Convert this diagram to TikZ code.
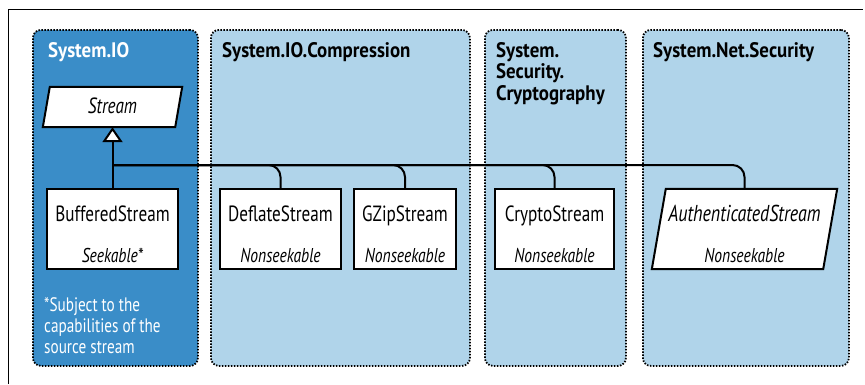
\documentclass[tikz,border=0pt]{standalone}
\usepackage{fontspec}
\setmainfont{PT Sans}[FakeStretch=0.78]
\newfontfamily\ttlfont{PT Sans}[FakeStretch=0.9]
\usetikzlibrary{calc,arrows.meta}
\definecolor{darkb}{RGB}{58,141,200}
\definecolor{lightb}{RGB}{176,212,234}
\tikzset{
  pkg/.style={draw=black, line width=1.8pt, dash pattern=on 1.5pt off 1.5pt,
    rounded corners=8pt, anchor=north west, inner sep=0pt, minimum height=336pt},
  ttl/.style={anchor=base west, inner sep=0pt, font=\ttlfont\bfseries\fontsize{21}{21.5}\selectfont},
  cls/.style={draw=black, line width=2pt, fill=white, inner sep=0pt, minimum height=80pt},
  ghost/.style={inner sep=0pt, minimum height=80pt},
  nm/.style={anchor=base, inner sep=0pt, font=\fontsize{22}{24}\selectfont},
  it/.style={anchor=base, inner sep=0pt, font=\itshape\fontsize{20}{22}\selectfont},
  conn/.style={draw=black, line width=2pt},
}
\begin{document}
\begin{tikzpicture}[x=1pt,y=-1pt]
\useasboundingbox (0,0) rectangle (865,384);
\draw[line width=1pt] (8,384) -- (8,9) -- (863,9);
% packages
\node[pkg, fill=darkb, minimum width=165pt] (io) at (32,29) {};
\node[pkg, fill=lightb, minimum width=259pt] (comp) at (210,29) {};
\node[pkg, fill=lightb, minimum width=141pt] (crypt) at (484,29) {};
\node[pkg, fill=lightb, minimum width=206pt] (net) at (642,29) {};
% titles
\node[ttl, text=white] (tio) at (48,57) {System.IO};
\node[ttl] (tcomp) at (222,57) {System.IO.Compression};
\node[ttl] (tcrypt) at (496,57) {\begin{tabular}[t]{@{}l@{}}System.\\Security.\\Cryptography\end{tabular}};
\node[ttl] (tnet) at (653,57) {System.Net.Security};
% footnote
\node[anchor=base west, inner sep=0pt, text=white, font=\fontsize{19.5}{21}\selectfont] (foot) at (44,311)
  {\begin{tabular}[t]{@{}l@{}}*Subject to the\\capabilities of the\\source stream\end{tabular}};
% classes
\node[ghost, minimum height=40pt, minimum width=132pt] (stream) at (112.5,107) {};
\draw[cls] ($(stream.south west)+(-3.5,0)$) -- ($(stream.north west)+(3.5,0)$)
  -- ($(stream.north east)+(3.5,0)$) -- ($(stream.south east)+(-3.5,0)$) -- cycle;
\node[it, font=\itshape\fontsize{22}{24}\selectfont] (streamt) at (112.5,113) {Stream};
\node[cls, minimum width=131pt] (buf) at (112.5,229) {};
\node[cls, minimum width=121pt] (defl) at (280.5,229) {};
\node[cls, minimum width=102pt] (gzip) at (405,229) {};
\node[cls, minimum width=119pt] (cryp) at (554.5,229) {};
\node[ghost, minimum width=171pt] (auth) at (744.5,229) {};
\draw[cls] ($(auth.south west)+(-7,0)$) -- ($(auth.north west)+(7,0)$)
  -- ($(auth.north east)+(7,0)$) -- ($(auth.south east)+(-7,0)$) -- cycle;
% class texts
\node[nm] (bufn) at (112.5,221) {BufferedStream};
\node[it] (bufs) at (112.5,262) {Seekable*};
\node[nm] (defln) at (280.5,221) {DeflateStream};
\node[it] (defls) at (280.5,262) {Nonseekable};
\node[nm] (gzipn) at (405,221) {GZipStream};
\node[it] (gzips) at (405,262) {Nonseekable};
\node[nm] (crypn) at (554.5,221) {CryptoStream};
\node[it] (cryps) at (554.5,262) {Nonseekable};
\node[nm, font=\itshape\fontsize{23}{24}\selectfont] (authn) at (744.5,221) {AuthenticatedStream};
\node[it] (auths) at (744.5,262) {Nonseekable};
% connectors
\coordinate (j) at (112.5,165);
\draw[conn, rounded corners=12pt] (j) -| (defl.north);
\draw[conn, rounded corners=12pt] (j) -| (gzip.north);
\draw[conn, rounded corners=12pt] (j) -| (cryp.north);
\draw[conn, rounded corners=12pt] (j) -| (auth.north);
\draw[conn, -{Triangle[fill=white, width=20pt, length=15pt]}] (buf.north) -- (stream.south);
\end{tikzpicture}
\end{document}
